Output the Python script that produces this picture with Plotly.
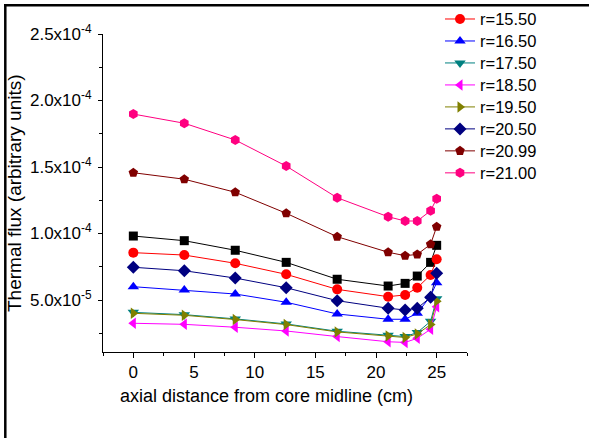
import plotly.graph_objects as go

# axial positions (cm)
x_cm = [0, 4.2, 8.4, 12.6, 16.8, 21.0, 22.4, 23.4, 24.5, 25.0]

# thermal flux series (arbitrary units)
flux_black = [0.981e-4, 0.946e-4, 0.874e-4, 0.783e-4, 0.656e-4, 0.605e-4, 0.625e-4, 0.680e-4, 0.783e-4, 0.911e-4]
flux_1550 = [0.856e-4, 0.838e-4, 0.776e-4, 0.693e-4, 0.580e-4, 0.525e-4, 0.538e-4, 0.592e-4, 0.688e-4, 0.806e-4]
flux_1650 = [0.600e-4, 0.575e-4, 0.545e-4, 0.483e-4, 0.395e-4, 0.355e-4, 0.355e-4, 0.400e-4, 0.530e-4, 0.630e-4]
flux_1750 = [0.407e-4, 0.390e-4, 0.358e-4, 0.320e-4, 0.265e-4, 0.235e-4, 0.225e-4, 0.255e-4, 0.340e-4, 0.510e-4]
flux_1850 = [0.325e-4, 0.317e-4, 0.295e-4, 0.267e-4, 0.225e-4, 0.186e-4, 0.181e-4, 0.212e-4, 0.280e-4, 0.450e-4]
flux_1950 = [0.400e-4, 0.385e-4, 0.353e-4, 0.315e-4, 0.260e-4, 0.230e-4, 0.218e-4, 0.245e-4, 0.315e-4, 0.490e-4]
flux_2050 = [0.746e-4, 0.720e-4, 0.665e-4, 0.592e-4, 0.495e-4, 0.438e-4, 0.425e-4, 0.438e-4, 0.520e-4, 0.701e-4]
flux_2099 = [1.457e-4, 1.408e-4, 1.310e-4, 1.152e-4, 0.976e-4, 0.859e-4, 0.833e-4, 0.843e-4, 0.919e-4, 1.051e-4]
flux_2100 = [1.898e-4, 1.829e-4, 1.703e-4, 1.507e-4, 1.269e-4, 1.126e-4, 1.094e-4, 1.094e-4, 1.171e-4, 1.262e-4]

series_names = ["r=15.50", "r=16.50", "r=17.50", "r=18.50", "r=19.50", "r=20.50", "r=20.99", "r=21.00"]
series_values = [flux_1550, flux_1650, flux_1750, flux_1850, flux_1950, flux_2050, flux_2099, flux_2100]

y_tick_vals = [5e-5, 1e-4, 1.5e-4, 2e-4, 2.5e-4]
y_tick_text = ["5.0x10<sup>-5</sup>", "1.0x10<sup>-4</sup>", "1.5x10<sup>-4</sup>",
               "2.0x10<sup>-4</sup>", "2.5x10<sup>-4</sup>"]

colors = ["#FF0000", "#0000FF", "#008080", "#FF00FF", "#808000", "#000080", "#800000", "#FF0080"]
symbols = ["circle", "triangle-up", "triangle-down", "triangle-left", "triangle-right",
           "diamond", "pentagon", "hexagon"]
sizes = [10, 10, 10, 10, 10, 10, 10, 10]

FONT = "Liberation Sans, Arial, sans-serif"

fig = go.Figure()
fig.add_trace(go.Scatter(x=x_cm, y=flux_black, mode="lines+markers", showlegend=False,
                         line=dict(color="#000000", width=1),
                         marker=dict(symbol="square", size=9, color="#000000")))
for name, vals, c, s, sz in zip(series_names, series_values, colors, symbols, sizes):
    fig.add_trace(go.Scatter(x=x_cm, y=vals, mode="lines+markers",
                             name="<span style='font-size:16.5px'>" + name + "</span>",
                             line=dict(color=c, width=1),
                             marker=dict(symbol=s, size=sz, color=c)))

L, R, T, B = 103, 467, 34, 352
W, H = 589, 438
pw, ph = R - L, B - T

def px_x(p):
    return (p - L) / pw

def px_y(p):
    return (B - p) / ph

fig.update_layout(
    width=W, height=H,
    margin=dict(l=L, r=W - R, t=T, b=H - B, autoexpand=False),
    paper_bgcolor="white", plot_bgcolor="white",
    font=dict(family=FONT, color="black", size=17),
    hovermode=False,
    xaxis=dict(range=[-2.5, 27.5], tickmode="linear", tick0=0, dtick=5,
               ticks="outside", ticklen=5, tickwidth=1, tickcolor="black",
               showline=True, linecolor="black", linewidth=1,
               showgrid=False, zeroline=False,
               tickfont=dict(size=17),
               minor=dict(tickmode="linear", tick0=0, dtick=2.5, ticks="outside",
                          ticklen=3, tickcolor="black", showgrid=False)),
    yaxis=dict(range=[1.09e-5, 2.5e-4], tickmode="array", tickvals=y_tick_vals,
               ticktext=y_tick_text,
               ticks="outside", ticklen=4, tickwidth=1, tickcolor="black",
               showline=True, linecolor="black", linewidth=1,
               showgrid=False, zeroline=False, ticklabelstandoff=3,
               tickfont=dict(size=17),
               minor=dict(tickmode="linear", tick0=0, dtick=2.5e-5, ticks="outside",
                          ticklen=3, tickcolor="black", showgrid=False)),
    legend=dict(x=px_x(440), y=px_y(3), xanchor="left", yanchor="top",
                font=dict(size=14.6), bgcolor="rgba(0,0,0,0)",
                tracegroupgap=0, itemwidth=30),
    annotations=[
        dict(text="axial distance from core midline (cm)", xref="paper", yref="paper",
             x=px_x(266), y=px_y(396), xanchor="center", yanchor="middle",
             showarrow=False, font=dict(size=18)),
        dict(text="Thermal flux (arbitrary units)", xref="paper", yref="paper",
             x=px_x(14.5), y=px_y(193.5), xanchor="center", yanchor="middle",
             textangle=-90, showarrow=False, font=dict(size=19)),
    ],
    shapes=[
        dict(type="line", xref="paper", yref="paper", x0=px_x(4), x1=px_x(589),
             y0=px_y(5.3), y1=px_y(5.3), line=dict(color="black", width=2.5)),
        dict(type="line", xref="paper", yref="paper", x0=px_x(5.3), x1=px_x(5.3),
             y0=px_y(4), y1=px_y(438), line=dict(color="black", width=2.5)),
    ],
)

fig.write_html("out.html", config={"displayModeBar": False, "staticPlot": True},
               post_script="document.body.style.margin='0';")
